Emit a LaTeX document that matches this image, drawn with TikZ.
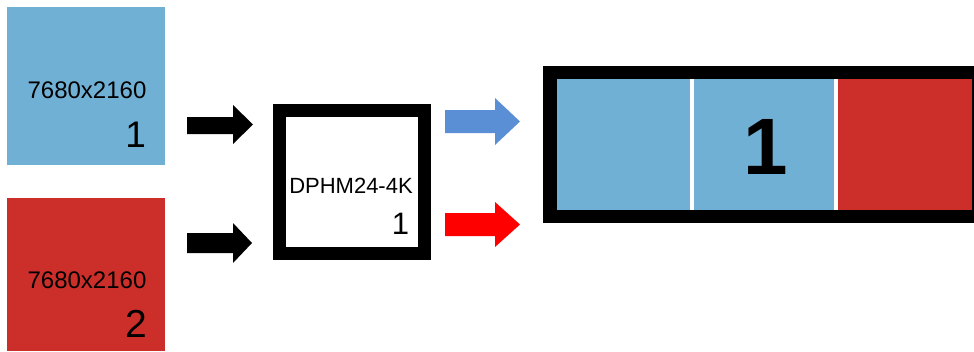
\documentclass[tikz,border=0pt]{standalone}
\usepackage{fontspec}
\setmainfont{Liberation Sans}
\definecolor{srcblue}{HTML}{70B0D5}
\definecolor{srcred}{HTML}{CC2E2A}
\definecolor{outblue}{HTML}{5A8FD6}
\definecolor{outred}{HTML}{FF0000}
\begin{document}
\begin{tikzpicture}[x=1pt,y=-1pt,
  txt/.style={inner sep=0pt,outer sep=0pt,text=black},
  blockarrow/.style={draw=none}]
\useasboundingbox (0,0) rectangle (974,351);
% sources
\fill[srcblue] (7,7) rectangle (165,165);
\node[coordinate] (src1) at (86,86) {};
\fill[srcred] (7,198) rectangle (165,351);
\node[coordinate] (src2) at (86,274) {};
\node[txt,anchor=base,font=\fontsize{24}{24}\selectfont] (r1) at (87,98) {7680x2160};
\node[txt,anchor=base east,font=\fontsize{37}{37}\selectfont] (n1) at (146,147) {1};
\node[txt,anchor=base,font=\fontsize{24}{24}\selectfont] (r2) at (87,288) {7680x2160};
\node[txt,anchor=base east,font=\fontsize{39}{39}\selectfont] (n2) at (147,337) {2};
% input arrows
\fill[black] (187,117) -- (233,117) -- (233,105) -- (253,124.5) -- (233,144) -- (233,134) -- (187,134) -- cycle;
\fill[black] (187,233) -- (233,233) -- (233,223) -- (252,243) -- (233,263) -- (233,253) -- (187,253) -- cycle;
% device
\draw[line width=13pt,fill=white] (279.5,110.5) rectangle (424,253);
\node[txt,anchor=base,font=\fontsize{22}{22}\selectfont] (dev) at (351,193) {DPHM24-4K};
\node[txt,anchor=base east,font=\fontsize{31}{31}\selectfont] (devn) at (409,234) {1};
% output arrows
\fill[outblue] (445,110) -- (495,110) -- (495,98) -- (520,121.5) -- (495,145) -- (495,133) -- (445,133) -- cycle;
\fill[outred] (445,213) -- (495,213) -- (495,202) -- (520,224.5) -- (495,247) -- (495,236) -- (445,236) -- cycle;
% display
\fill[black] (543,66) rectangle (974,223);
\fill[srcblue] (557,79) rectangle (690,210);
\fill[white] (690,79) rectangle (694,210);
\fill[srcblue] (694,79) rectangle (834,210);
\fill[white] (834,79) rectangle (838,210);
\fill[srcred] (838,79) rectangle (972,210);
\node[txt,anchor=base,font=\fontsize{80}{80}\selectfont\bfseries] (disp) at (766,174) {1};
\end{tikzpicture}
\end{document}
